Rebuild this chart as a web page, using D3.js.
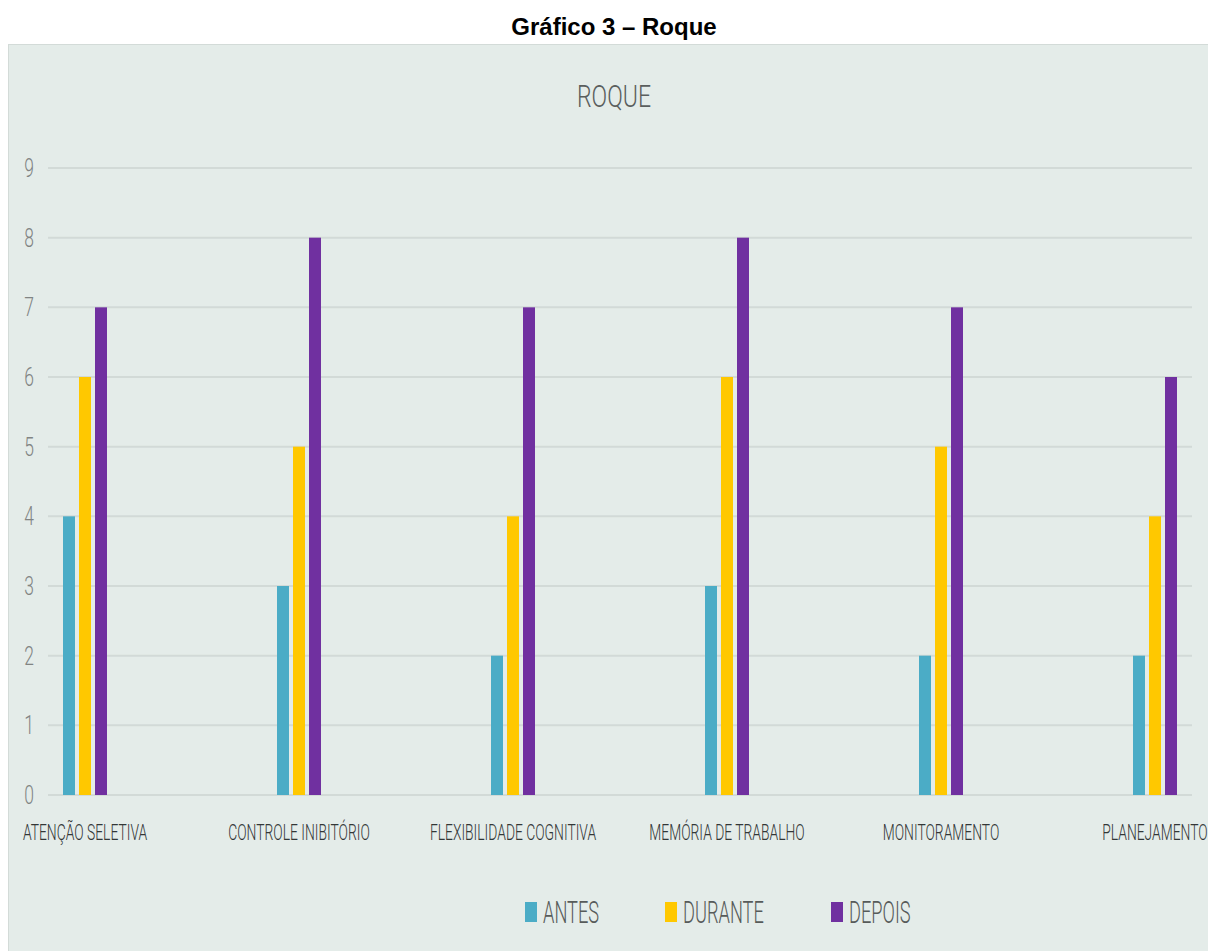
<!DOCTYPE html>
<html lang="pt">
	<head>
		<meta charset="utf-8">
		<title>Gráfico 3 – Roque</title>
		<script src="https://d3js.org/d3.v7.min.js"></script>
		<style type="text/css">
			body { margin: 0; background: #fff; }
			.cond { font-family: "Roboto", "Noto Sans", sans-serif; font-weight: 300; }
		</style>
	</head>
	<body>
		<script type="text/javascript">
			//Data
			var categories = ["ATENÇÃO SELETIVA", "CONTROLE INIBITÓRIO", "FLEXIBILIDADE COGNITIVA",
				"MEMÓRIA DE TRABALHO", "MONITORAMENTO", "PLANEJAMENTO"];
			var series = ["ANTES", "DURANTE", "DEPOIS"];
			var antes = [4, 3, 2, 3, 2, 2];
			var durante = [6, 5, 4, 6, 5, 4];
			var depois = [7, 8, 7, 8, 7, 6];
			var yTicks = [0, 1, 2, 3, 4, 5, 6, 7, 8, 9];
			var colors = ["#4bacc6", "#ffc800", "#7030a0"];

			var values = [antes, durante, depois];

			//Width and height
			var w = 1208;
			var h = 951;
			var squeeze = 0.63; // the original uses a very narrow font

			var svg = d3.select("body")
						.append("svg")
						.attr("width", w)
						.attr("height", h);

			//Page title
			svg.append("text")
				.attr("x", 614)
				.attr("y", 35)
				.attr("text-anchor", "middle")
				.style("font-family", "Liberation Sans, Arial, sans-serif")
				.style("font-weight", "bold")
				.style("font-size", "24px")
				.style("fill", "#000")
				.text("Gráfico 3 – Roque");

			//Chart background
			svg.append("rect")
				.attr("x", 8.5)
				.attr("y", 44.5)
				.attr("width", w)
				.attr("height", h)
				.style("fill", "#e4ece9")
				.style("stroke", "#d3dbd8");

			//Chart title
			svg.append("text")
				.attr("class", "cond")
				.attr("transform", "translate(614,107) scale(0.72,1)")
				.attr("text-anchor", "middle")
				.style("font-size", "32px")
				.style("fill", "#5a5e5d")
				.text("ROQUE");

			var y = d3.scaleLinear()
				.domain([0, 9])
				.range([795, 168]);

			var x = d3.scalePoint()
				.domain(categories)
				.range([85, 1155]);

			var xInner = d3.scaleBand()
				.domain(series)
				.range([-22, 22])
				.paddingInner(0.25);

			//Gridlines
			svg.append("g")
				.selectAll("line")
				.data(yTicks)
				.enter()
				.append("line")
				.attr("x1", 48)
				.attr("x2", 1192)
				.attr("y1", function(d){ return y(d); })
				.attr("y2", function(d){ return y(d); })
				.style("stroke", "#d2dad7")
				.style("stroke-width", 2);

			//Y labels
			svg.append("g")
				.selectAll("text")
				.data(yTicks)
				.enter()
				.append("text")
				.attr("class", "cond")
				.attr("transform", function(d){ return "translate(29," + (y(d) + 9) + ") scale(0.7,1)"; })
				.attr("text-anchor", "middle")
				.style("font-size", "25px")
				.style("fill", "#818483")
				.text(function(d){ return d; });

			//Bars
			series.forEach(function(s, si) {
				svg.append("g")
					.selectAll("rect")
					.data(values[si])
					.enter()
					.append("rect")
					.attr("x", function(d, i){ return x(categories[i]) + xInner(s); })
					.attr("width", xInner.bandwidth())
					.attr("y", function(d){ return y(d); })
					.attr("height", function(d){ return y(0) - y(d); })
					.style("fill", colors[si]);
			});

			//Category labels
			svg.append("g")
				.selectAll("text")
				.data(categories)
				.enter()
				.append("text")
				.attr("class", "cond")
				.attr("transform", function(d){ return "translate(" + x(d) + ",840) scale(" + squeeze + ",1)"; })
				.attr("text-anchor", "middle")
				.style("font-size", "22px")
				.style("fill", "#333737")
				.text(function(d){ return d; });

			//Legend
			var legendX = [525, 665, 831];
			var legend = svg.append("g")
				.selectAll("g")
				.data(series)
				.enter()
				.append("g")
				.attr("transform", function(d, i){ return "translate(" + legendX[i] + ",902)"; });

			legend.append("rect")
				.attr("width", 12)
				.attr("height", 20)
				.style("fill", function(d, i){ return colors[i]; });

			legend.append("text")
				.attr("class", "cond")
				.attr("transform", "translate(18,21) scale(0.57,1)")
				.style("font-size", "32px")
				.style("fill", "#575b5a")
				.text(function(d){ return d; });
		</script>
	</body>
</html>
